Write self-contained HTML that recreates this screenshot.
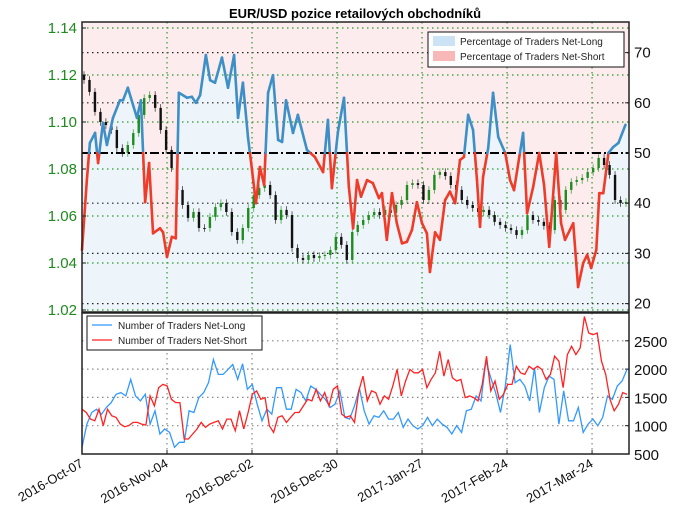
<!DOCTYPE html>
<html><head><meta charset="utf-8">
<style>
html,body{margin:0;padding:0;background:#fff;}
svg{display:block;font-family:"Liberation Sans","DejaVu Sans",sans-serif;}
</style></head>
<body>
<svg id="chart" width="680" height="519" viewBox="0 0 680 519" xmlns="http://www.w3.org/2000/svg">
<text x="355" y="18" text-anchor="middle" font-size="13" font-weight="bold">EUR/USD pozice retailových obchodníků</text>
</svg>
<script>
// ---------- DATA ----------
const closes = [1.1179,1.1128,1.1043,1.1000,1.0987,1.0966,1.0889,1.0868,1.0902,1.0953,
1.1030,1.1102,1.1115,1.1060,1.0966,1.0881,1.0804,1.0711,1.0647,1.0592,
1.0617,1.0549,1.0549,1.0596,1.0638,1.0655,1.0617,1.0532,1.0498,1.0549,
1.0634,1.0689,1.0719,1.0732,1.0689,1.0583,1.0626,1.0604,1.0464,1.0421,
1.0413,1.0434,1.0421,1.0430,1.0434,1.0455,1.0511,1.0477,1.0413,1.0532,
1.0562,1.0583,1.0604,1.0617,1.0604,1.0626,1.0613,1.0647,1.0668,1.0732,
1.0740,1.0732,1.0668,1.0711,1.0775,1.0787,1.0770,1.0732,1.0711,1.0668,
1.0647,1.0634,1.0617,1.0626,1.0604,1.0575,1.0562,1.0549,1.0540,1.0519,
1.0540,1.0604,1.0583,1.0575,1.0558,1.0540,1.0668,1.0626,1.0711,1.0745,
1.0753,1.0762,1.0787,1.0804,1.0847,1.0817,1.0775,1.0668,1.0655,1.0660];
const firstOpen = 1.1200;
const pctDays = [0,1.6,2.6,4.3,5.3,6.9,8.2,10.2,12.5,13.5,
15.1,18.1,19.4,20.8,22.1,23.4,25.7,26.7,28,29.6,
30.9,31.9,34.6,36.2,37.5,38.9,40.8,42.2,43.8,46.1,
48.1,50.1,51.4,53,54.7,56,57.3,58.6,60,61.3,
62.9,64.6,65.9,67.2,69.5,71.1,74.1,76.7,79.4,81,
82.3,84.3,86.3,87.9,89.3,90.6,91.9,93.9,95.8,97.8,
98.8,100.4,102.1,103.7,105.4,107,108.7,110.3,112,113.6,
114.6,116.3,117.9,119.6,121.2,122.9,124.5,125.8,127.2,128.8,
130.1,131.1,132.1,133.8,135.4,137.1,139.4,141,142.3,145.3,
146.6,148.6,150.6,152.2,153.9,156.2,157.8,159.1,161.8,163.4,
165.1,166.4,167.7,169.4,170.4,171.7,173.4,175,176.7,179];
const pctLong = [30.7,44.6,52,54,48,56,51.6,57,60.5,60.5,
63,57,60.5,40.2,48,34,35,34.2,29.3,33.3,
33,62,61,61.2,60,61.5,69.5,64.5,64,69,
63,69.5,57,64,53,46.6,40,47.2,43.6,62,
65.5,52.6,52.2,60.5,54,57.6,50.6,49.2,46.2,56.6,
43,54.2,61,43.2,35,44.6,41.3,44.6,44,41,
42,32.7,42,36,32,32.3,34.7,40.2,36,34,
26.3,34.2,32.7,40.6,42.3,40,48.6,49.2,57.6,54.6,
44.6,35.3,45.2,51,62,53.2,50,44.6,42.6,54,
38,43.2,50,43.6,31.3,50,36,32.7,36,23.3,
28.1,29.7,27.1,30.7,42,42,50,51.2,52,55.6];
const netLong = [619,1029,1233,1292,1204,1321,1409,1555,1584,1526,1818,1526,1438,1555,1029,1263,853,941,882,619,
707,707,1263,1233,1497,1584,1760,2169,1906,1906,1994,2081,1818,2093,1643,1730,1380,1087,1292,1204,
1672,1672,1292,1292,1643,1584,1438,1701,1643,1555,1467,1321,1380,1614,1146,1116,1350,1660,1263,1029,
1175,1146,1263,1116,1116,1233,970,1116,1000,941,1000,1146,1000,1116,1029,970,853,1000,882,1263,
1292,1526,1438,2140,1847,1584,1233,1701,2432,1760,1818,1701,1438,2023,1233,1672,1877,1818,1029,1614,
1087,1087,1321,882,1029,1116,1000,1146,1526,1467,1701,1789,1994];
const netShort = [1292,1233,1116,1087,1292,1000,1292,1175,1146,1029,982,1000,1058,1058,1029,1011,1526,1350,1672,1730,
1701,1467,1409,1409,765,765,853,941,1058,970,1029,1058,1087,941,1116,1116,912,1263,941,1233,
1555,1614,1467,1497,1000,882,1146,1175,1058,1146,1233,1233,1350,1467,1438,1643,1438,1584,1350,1643,
1701,1204,1146,1175,1058,1614,1877,1438,1614,1584,1380,1526,1467,1701,1994,1526,1789,1994,1935,1935,
1994,1672,1818,1935,2315,1877,2169,1847,1789,1818,1497,1526,1497,1438,1730,2228,1614,1789,1467,1555,
1730,1730,2052,1935,1906,2052,1994,2052,1994,1818,1906,2228,2140,1672,2257,2403,2257,2374,2929,2637,
2608,2637,2140,1906,1467,1263,1380,1584,1555];
const dateLabels = ["2016-Oct-07","2016-Nov-04","2016-Dec-02","2016-Dec-30","2017-Jan-27","2017-Feb-24","2017-Mar-24"];
const priceTicks = [1.14,1.12,1.10,1.08,1.06,1.04,1.02];
const pctTicks = [70,60,50,40,30,20];
const countTicks = [2500,2000,1500,1000,500];

// ---------- GEOMETRY ----------
const L=82, R=629, T1=22, B1=312, T2=313, B2=454;
const dayX = d => L + d*3.036;
const priceY = p => 28 + (1.14-p)*2350;
const pctY = v => 153 - (v-50)*5.02;
const countY = c => 454 - (c-500)*28.3/500;
const NS="http://www.w3.org/2000/svg";
const svg=document.getElementById('chart');
function mk(tag,attrs,parent){const e=document.createElementNS(NS,tag);for(const k in attrs)e.setAttribute(k,attrs[k]);(parent||svg).appendChild(e);return e;}

// top panel group
const gTop=mk('g',{});


// backgrounds: net-short (pink) full, net-long (blue) under line
const bgS=mk('rect',{x:L,y:T1,width:R-L,height:B1-T1,fill:'#fdeced'},gTop);


let ad='M'+dayX(pctDays[0])+','+B1;
pctDays.forEach((d,i)=>{ad+=' L'+dayX(d).toFixed(1)+','+pctY(pctLong[i]).toFixed(1);});
ad+=' L'+R+','+pctY(pctLong[pctLong.length-1]).toFixed(1)+' L'+R+','+B1+' Z';
const bgL=mk('path',{d:ad,fill:'#eef5fa'},gTop);



// grid: green price grid, black pct grid
priceTicks.forEach(p=>{const y=priceY(p);if(y>T1+2&&y<B1-2){const g=mk('line',{x1:L,x2:R,y1:y,y2:y,stroke:'#2a9a2a','stroke-dasharray':'1.5,3.5','stroke-width':1.2},gTop);}});
pctTicks.forEach(v=>{const y=pctY(v);if(v!==50){const g=mk('line',{x1:L,x2:R,y1:y,y2:y,stroke:'#222','stroke-dasharray':'1.5,3.5','stroke-width':1.2},gTop);}});
dateLabels.forEach((s,i)=>{if(i===0)return;const x=dayX(i*28);const g=mk('line',{x1:x,x2:x,y1:T1,y2:B1,stroke:'#2a9a2a','stroke-dasharray':'1.5,3.5','stroke-width':1.2},gTop);});

// candles
const step=(R-5-L)/(closes.length-1);
closes.forEach((c,i)=>{
  const o=i===0?firstOpen:closes[i-1];
  const x=L+2+i*step;
  const hi=Math.max(o,c)+0.0016, lo=Math.min(o,c)-0.0016;
  const col=c>o?'#1e8c1e':'#111';
  const g=mk('g',{},gTop);
  
  
  mk('line',{x1:x,x2:x,y1:priceY(hi),y2:priceY(lo),stroke:col,'stroke-width':0.8,opacity:0.8},g);
  const y1=priceY(Math.max(o,c)), y2=priceY(Math.min(o,c));
  mk('rect',{x:x-1.2,y:y1,width:2.4,height:Math.max(1,y2-y1),fill:col},g);
});

// 50 line
const l50=mk('line',{x1:L,x2:R,y1:pctY(50),y2:pctY(50),stroke:'#000','stroke-width':2,'stroke-dasharray':'9,3,2,3'},gTop);



// pct line colored segments
for(let i=0;i<pctDays.length-1;i++){
  const x1=dayX(pctDays[i]),x2=dayX(pctDays[i+1]),v1=pctLong[i],v2=pctLong[i+1];
  const segs=[];
  if((v1-50)*(v2-50)<0){const t=(50-v1)/(v2-v1);const xm=x1+t*(x2-x1);segs.push([x1,v1,xm,50,v1>50]);segs.push([xm,50,x2,v2,v2>50]);}
  else segs.push([x1,v1,x2,v2,(v1+v2)/2>=50]);
  segs.forEach(s=>{const ln=mk('line',{x1:s[0],y1:pctY(s[1]),x2:s[2],y2:pctY(s[3]),stroke:s[4]?'#3d8fc6':'#ee3b2a','stroke-width':2.6,'stroke-linecap':'round'},gTop);
    
    });
}
// frame
const f1=mk('rect',{x:L,y:T1,width:R-L,height:B1-T1,fill:'none',stroke:'#222','stroke-width':1.5},gTop);


// left ticks
priceTicks.forEach(p=>{const y=priceY(p);const t=mk('text',{x:L-5,y:y+5,'text-anchor':'end','font-size':15,fill:'#1f8a1f'},gTop);t.textContent=p.toFixed(2);
 mk('line',{x1:L,x2:L+4,y1:y,y2:y,stroke:'#222'},gTop);});
pctTicks.forEach(v=>{const y=pctY(v);const t=mk('text',{x:R+5,y:y+5,'font-size':15,fill:'#111'},gTop);t.textContent=v;
 mk('line',{x1:R-4,x2:R,y1:y,y2:y,stroke:'#222'},gTop);});
// legend top
const lg=mk('g',{},gTop);


mk('rect',{x:428,y:32,width:196,height:35,fill:'#fff',stroke:'#111','stroke-width':1},lg);
mk('rect',{x:433,y:36,width:22,height:10,fill:'#cce3f6'},lg);
mk('rect',{x:433,y:51,width:22,height:10,fill:'#f8b8b8'},lg);
let t=mk('text',{x:460,y:45,'font-size':10,fill:'#222'},lg);t.textContent='Percentage of Traders Net-Long';

t=mk('text',{x:460,y:60,'font-size':10,fill:'#222'},lg);t.textContent='Percentage of Traders Net-Short';


// ---------- bottom panel ----------
const gB=mk('g',{});


countTicks.forEach(c=>{const y=countY(c);if(c!==500){const g=mk('line',{x1:L,x2:R,y1:y,y2:y,stroke:'#888','stroke-dasharray':'1.5,3.5','stroke-width':1.2},gB);}
 const tx=mk('text',{x:R+5,y:y+6,'font-size':15,fill:'#111'},gB);tx.textContent=c;
 mk('line',{x1:R-4,x2:R,y1:y,y2:y,stroke:'#222'},gB);});
dateLabels.forEach((s,i)=>{const x=dayX(i*28);
 if(i>0){const g=mk('line',{x1:x,x2:x,y1:T2,y2:B2,stroke:'#888','stroke-dasharray':'1.5,3.5','stroke-width':1.2},gB);}
 mk('line',{x1:x,x2:x,y1:B2-4,y2:B2,stroke:'#222'},gB);
 const tx=mk('text',{x:x+2,y:B2+12,'text-anchor':'end','font-size':13,fill:'#111',transform:'rotate(-30 '+(x+2)+' '+(B2+12)+')'},gB);tx.textContent=s;});
function series(arr,col,name){const st=(R-2-L)/(arr.length-1);let d='';arr.forEach((v,i)=>{d+=(i?' L':'M')+(L+i*st).toFixed(1)+','+countY(v).toFixed(1);});
 const p=mk('path',{d:d,fill:'none',stroke:col,'stroke-width':1.3},gB);}
series(netLong,'#3399ff','net-long-count-line');
series(netShort,'#ff2222','net-short-count-line');
const f2=mk('rect',{x:L,y:T2,width:R-L,height:B2-T2,fill:'none',stroke:'#222','stroke-width':1.5},gB);


const lg2=mk('g',{},gB);


mk('rect',{x:87,y:316,width:175,height:34,fill:'#fff',stroke:'#111','stroke-width':1},lg2);
mk('line',{x1:92,x2:112,y1:325,y2:325,stroke:'#3399ff','stroke-width':1.3},lg2);
mk('line',{x1:92,x2:112,y1:340,y2:340,stroke:'#ff2222','stroke-width':1.3},lg2);
t=mk('text',{x:118,y:329,'font-size':10,fill:'#222'},lg2);t.textContent='Number of Traders Net-Long';

t=mk('text',{x:118,y:344,'font-size':10,fill:'#222'},lg2);t.textContent='Number of Traders Net-Short';

</script>
</body></html>
